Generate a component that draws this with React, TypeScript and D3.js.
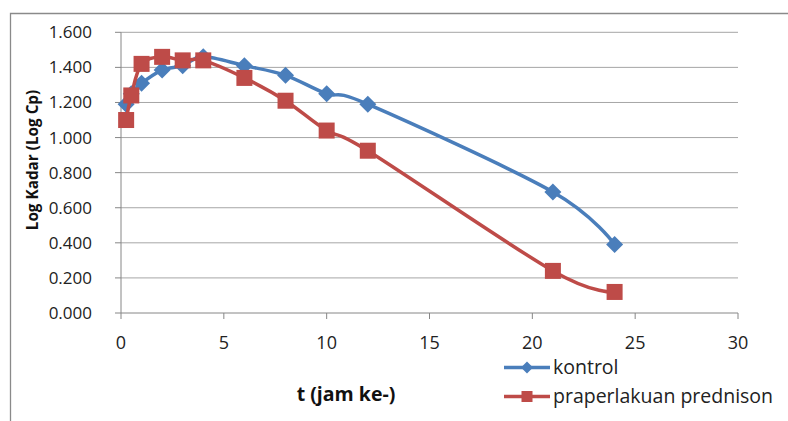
import React from 'react';
import * as d3 from 'd3';

// jam ke- (sampling times)
const times = [0.25, 0.5, 1, 2, 3, 4, 6, 8, 10, 12, 21, 24];
const kontrol = [1.19, 1.25, 1.31, 1.385, 1.41, 1.46, 1.41, 1.355, 1.25, 1.19, 0.69, 0.39];
const prednison = [1.1, 1.24, 1.42, 1.46, 1.44, 1.44, 1.34, 1.21, 1.04, 0.925, 0.24, 0.12];
const yTicks = [0, 0.2, 0.4, 0.6, 0.8, 1.0, 1.2, 1.4, 1.6];
const xTicks = [0, 5, 10, 15, 20, 25, 30];
const seriesNames = ['kontrol', 'praperlakuan prednison'];

const BLUE = '#4a7ebb';
const RED = '#be4b48';
const FONT = '"Open Sans", sans-serif';

const App = () => {
  const width = 788;
  const height = 421;
  const left = 121, right = 738, top = 32.3, bottom = 313;

  const x = d3.scaleLinear().domain([0, 30]).range([left, right]);
  const y = d3.scaleLinear().domain([0, 1.6]).range([bottom, top]);

  const line = d3.line<[number, number]>()
    .x(d => x(d[0]))
    .y(d => y(d[1]))
    .curve(d3.curveCatmullRom.alpha(0));

  const blueData: [number, number][] = times.map((t, i) => [t, kontrol[i]]);
  const redData: [number, number][] = times.map((t, i) => [t, prednison[i]]);

  const diamond = (cx: number, cy: number, r: number) =>
    `M${cx},${cy - r}L${cx + r},${cy}L${cx},${cy + r}L${cx - r},${cy}Z`;

  return (
    <svg width={width} height={height} style={{ position: 'absolute', left: 0, top: 0, background: '#fff' }}>
      {/* outer frame */}
      <path d={`M10.5,${height}V13.5H${width}`} fill="none" stroke="#8a8a8a" strokeWidth={1.3} />

      {/* grid */}
      {yTicks.map(t => (
        <g key={'gy' + t}>
          {t > 0 && <line x1={left} x2={right} y1={y(t)} y2={y(t)} stroke="#a6a6a6" strokeWidth={1} />}
          <line x1={left - 6} x2={left} y1={y(t)} y2={y(t)} stroke="#868686" />
          <text x={92} y={y(t) + 6} textAnchor="end" fontFamily={FONT} fontSize={17} fill="#222">
            {d3.format('.3f')(t)}
          </text>
        </g>
      ))}
      {/* axes */}
      <line x1={left} x2={left} y1={top} y2={bottom} stroke="#868686" />
      <line x1={left} x2={right} y1={bottom} y2={bottom} stroke="#868686" />
      {xTicks.map(t => (
        <g key={'gx' + t}>
          <line x1={x(t)} x2={x(t)} y1={bottom} y2={bottom + 6} stroke="#868686" />
          <text x={x(t)} y={349} textAnchor="middle" fontFamily={FONT} fontSize={18} fill="#222">
            {t}
          </text>
        </g>
      ))}

      {/* series */}
      <path d={line(blueData) || ''} fill="none" stroke={BLUE} strokeWidth={3.5} />
      {blueData.map((d, i) => (
        <path key={'b' + i} d={diamond(x(d[0]), y(d[1]), 8.5)} fill={BLUE} />
      ))}
      <path d={line(redData) || ''} fill="none" stroke={RED} strokeWidth={3.5} />
      {redData.map((d, i) => (
        <rect key={'r' + i} x={x(d[0]) - 8} y={y(d[1]) - 8} width={16} height={16} fill={RED} />
      ))}

      {/* axis titles */}
      <text
        transform="translate(38,160) rotate(-90)"
        textAnchor="middle"
        fontFamily={FONT}
        fontWeight="bold"
        fontSize={15.3}
        fill="#111"
      >
        Log Kadar (Log Cp)
      </text>
      <text x={346} y={401} textAnchor="middle" fontFamily={FONT} fontWeight="bold" fontSize={19.5} fill="#111">
        t (jam ke-)
      </text>

      {/* legend */}
      <g>
        <line x1={504} x2={550} y1={367.5} y2={367.5} stroke={BLUE} strokeWidth={3.5} />
        <path d={diamond(527, 367.5, 6)} fill={BLUE} />
        <text x={553} y={374} fontFamily={FONT} fontSize={19.5} fill="#222">{seriesNames[0]}</text>
        <line x1={504} x2={550} y1={396.5} y2={396.5} stroke={RED} strokeWidth={3.5} />
        <rect x={521.5} y={391} width={11} height={11} fill={RED} />
        <text x={553} y={403} fontFamily={FONT} fontSize={19.5} fill="#222">{seriesNames[1]}</text>
      </g>
    </svg>
  );
};

export default App;
